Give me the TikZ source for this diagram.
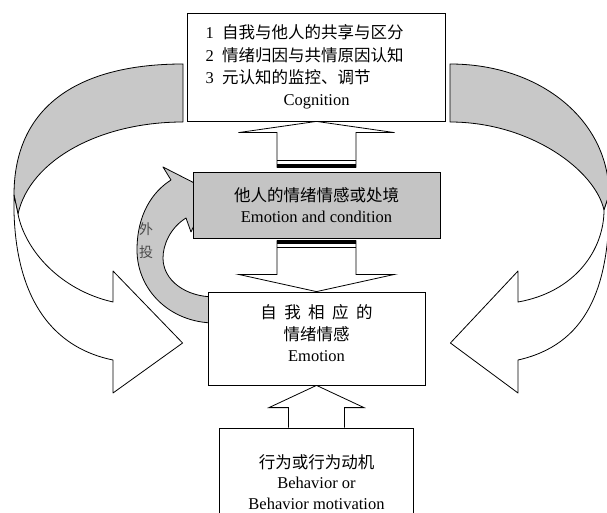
\documentclass[tikz,border=0pt]{standalone}
\usepackage{fontspec}
\setmainfont{Liberation Serif}
\newfontfamily\cjk{Noto Sans CJK SC}
\usetikzlibrary{positioning, calc, backgrounds}

\definecolor{bandgray}{RGB}{200,200,200}
\definecolor{boxgray}{RGB}{196,196,196}

\tikzset{
	box/.style={draw, line width=0.8pt, fill=white, align=center, inner sep=0pt, font=\fontsize{16.5}{20.5}\selectfont},
	blockarrow/.style={draw, line width=0.8pt, fill=white, line join=miter},
	band/.style={draw, line width=0.8pt, line join=round},
}

\begin{document}
\begin{tikzpicture}[x=1pt, y=-1pt]
			\useasboundingbox (0,0) rectangle (607,513);
			\clip (0,0) rectangle (607,513);
			
			\node (cog) at (316.5,67) [box, minimum width=258pt, minimum height=108pt, text width=222pt, align=left, font=\fontsize{16.5}{22.3}\selectfont] {1\enspace{\cjk 自我与他人的共享与区分}\\2\enspace{\cjk 情绪归因与共情原因认知}\\3\enspace{\cjk 元认知的监控、调节}\\\makebox[\hsize]{Cognition}};
			\node (cond) at (316.5,205) [box, fill=boxgray, minimum width=247pt, minimum height=66pt] {{\cjk 他人的情绪情感或处境}\\Emotion and condition};
			\node (emo) at (316.5,338.5) [box, minimum width=217pt, minimum height=93pt, font=\fontsize{16.5}{21.5}\selectfont] {{\cjk 自\hspace{0.45em}我\hspace{0.45em}相\hspace{0.45em}应\hspace{0.45em}的}\\{\cjk 情绪情感}\\Emotion\\[-11.5pt]\mbox{}};
			\node (beh) at (316.5,482) [box, minimum width=194pt, minimum height=108pt] {{\cjk 行为或行为动机}\\Behavior or\\Behavior motivation};
			
			\node (wai) at (146,229) [font=\fontsize{14}{14}\selectfont, text=black!70, inner sep=0pt] {\cjk 外};
			\node (tou) at (146,252) [font=\fontsize{14}{14}\selectfont, text=black!70, inner sep=0pt] {\cjk 投};
			
			\begin{pgfonlayer}{background}
			% left loop
			\draw[band, fill=bandgray] (183,64) .. controls (80,64) and (14,105) .. (14,195) -- (18,214) .. controls (30,160) and (100,122) .. (183,122) -- cycle;
			\draw[band, fill=white] (14,195) .. controls (12,280) and (40,345) .. (113,360) -- (113,393) -- ($(emo.west)+(-25,4.5)$) -- (113,271) -- (113,302) .. controls (60,290) and (25,250) .. (18,214) -- cycle;
			% right loop
			\draw[band, fill=bandgray] (450,64) .. controls (540,64) and (609,120) .. (609,195) -- (604,210) .. controls (595,170) and (530,122) .. (450,122) -- cycle;
			\draw[band, fill=white] (609,195) .. controls (611,290) and (585,345) .. (518,360) -- (518,393) -- ($(emo.east)+(25,4.5)$) -- (518,271) -- (518,302) .. controls (575,292) and (604,250) .. (604,210) -- cycle;
			% projection
			\draw[band, fill=bandgray] (215,323) .. controls (170,323) and (137,290) .. (137,250) .. controls (137,215) and (152,192) .. (171,180) -- (163,167) -- (210,191) -- (191,232) -- (186,218) .. controls (170,228) and (163,245) .. (163,258) .. controls (163,280) and (185,297) .. (215,297) -- cycle;
			
			\draw[blockarrow] ($(beh.north)+(-28,0)$) -- ++(0,-20) -- ++(-19.5,0) -- (emo.south) -- ($(beh.north)+(47.5,-20)$) -- ++(-19.5,0) -- ($(beh.north)+(28,0)$);
			\draw[blockarrow] ($(cond.south)+(-39.5,2)$) -- ++(0,34) -- ++(-38.5,0) -- (emo.north) -- ($(cond.south)+(78,36)$) -- ++(-38.5,0) -- ($(cond.south)+(39.5,2)$);
			\draw[blockarrow] ($(cond.north)+(-39.5,-4)$) -- ++(0,-35) -- ++(-38.5,0) -- (cog.south) -- ($(cond.north)+(78,-39)$) -- ++(-38.5,0) -- ($(cond.north)+(39.5,-4)$);
			\fill ($(cond.south)+(-39.5,2)$) rectangle ($(cond.south)+(39.5,6)$);
			\draw[line width=0.8pt] ($(cond.south)+(-39.5,9)$) -- ($(cond.south)+(39.5,9)$);
			\fill ($(cond.north)+(-39.5,-4)$) rectangle ($(cond.north)+(39.5,-8)$);
			\draw[line width=0.8pt] ($(cond.north)+(-39.5,-11)$) -- ($(cond.north)+(39.5,-11)$);
			\end{pgfonlayer}
		\end{tikzpicture}
\end{document}
